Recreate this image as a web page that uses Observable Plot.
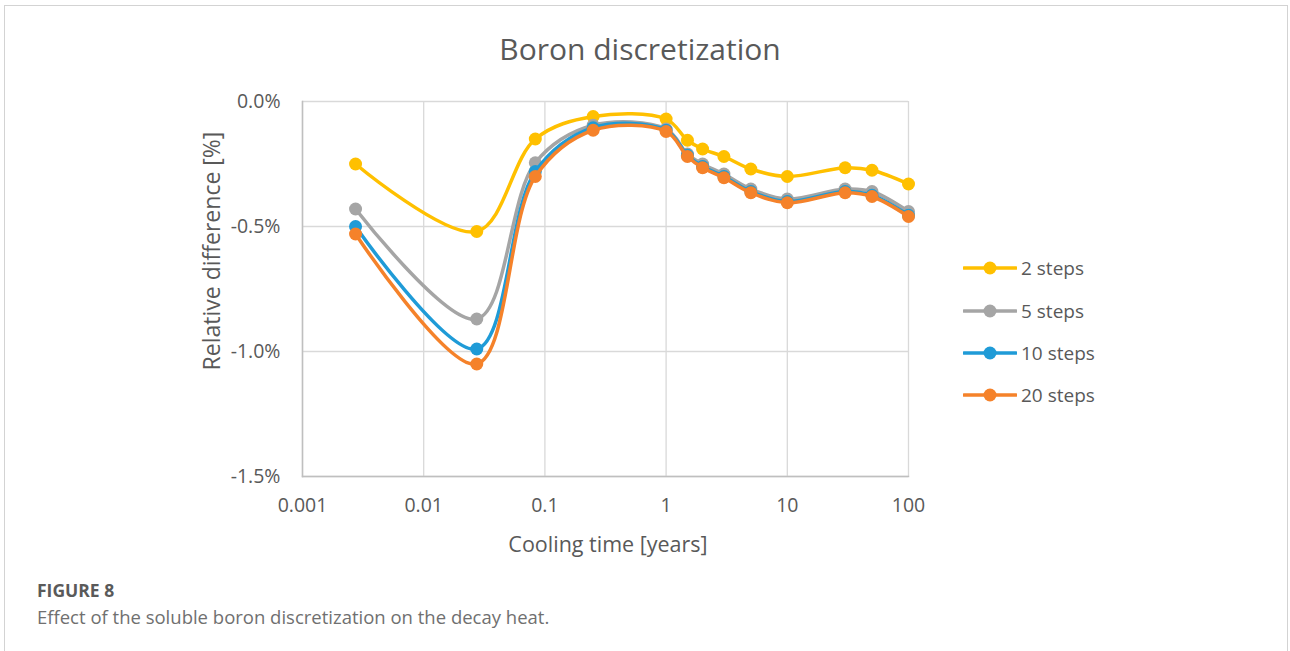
<!DOCTYPE html>
<html>
<head>
<meta charset="utf-8">
<script src="https://cdn.jsdelivr.net/npm/d3@7"></script>
<script src="https://cdn.jsdelivr.net/npm/@observablehq/plot@0.6"></script>
<style>
  body { margin: 0; background: #fff; font-family: "Open Sans", sans-serif; }
  #wrap { position: relative; width: 1290px; height: 651px; overflow: hidden; background: #fff; }
  #card { position: absolute; left: 4px; top: 5px; width: 1284px; height: 720px; border: 1px solid #d3d3d3; box-sizing: border-box; }
  #title { position: absolute; left: 0; width: 1280px; top: 29px; text-align: center; font-size: 30px; color: #595959; line-height: 40px; }
  #chart { position: absolute; left: 0; top: 85px; }
  #ylab { position: absolute; left: 211px; top: 251px; transform: translate(-50%, -50%) rotate(-90deg); white-space: nowrap; font-size: 23px; color: #595959; line-height: 26px; }
  #xlab { position: absolute; left: 608px; top: 544px; transform: translate(-50%, -50%); white-space: nowrap; font-size: 21.5px; color: #595959; line-height: 26px; }
  #legend { position: absolute; left: 963px; top: 0; }
  .lg { position: absolute; left: 0; height: 30px; display: flex; align-items: center; white-space: nowrap; font-size: 19px; color: #595959; transform: translateY(-50%); }
  .lg svg { margin-right: 4px; }
  #fig { position: absolute; left: 37px; top: 580px; font-size: 17.5px; line-height: 20px; font-weight: 700; color: #5a5a5a; }
  #cap { position: absolute; left: 37px; top: 606px; font-size: 18.5px; line-height: 22px; font-weight: 400; color: #707070; }
</style>
</head>
<body>
<div id="wrap">
  <div id="card"></div>
  <div id="title">Boron discretization</div>
  <div id="chart"></div>
  <div id="ylab">Relative difference [%]</div>
  <div id="xlab">Cooling time [years]</div>
  <div id="legend"></div>
  <div id="fig">FIGURE 8</div>
  <div id="cap">Effect of the soluble boron discretization on the decay heat.</div>
</div>
<script>
// Cooling times in years (1 d, 10 d, 1 month, 3 months, 1 y, ...)
const coolingTime = [1/365, 10/365, 1/12, 0.25, 1, 1.5, 2, 3, 5, 10, 30, 50, 100];
const seriesNames = ["2 steps", "5 steps", "10 steps", "20 steps"];
const seriesColors = ["#FFC000", "#A5A5A5", "#1F9BD7", "#F5822A"];
const steps2  = [-0.25, -0.52, -0.15, -0.06, -0.07, -0.155, -0.19, -0.22, -0.27, -0.30, -0.265, -0.275, -0.33];
const steps5  = [-0.43, -0.87, -0.245, -0.095, -0.11, -0.21, -0.25, -0.29, -0.35, -0.39, -0.35, -0.36, -0.44];
const steps10 = [-0.50, -0.99, -0.28, -0.105, -0.115, -0.215, -0.26, -0.30, -0.36, -0.40, -0.36, -0.375, -0.455];
const steps20 = [-0.53, -1.05, -0.30, -0.115, -0.12, -0.22, -0.265, -0.305, -0.365, -0.405, -0.365, -0.38, -0.46];
const xTicks = [0.001, 0.01, 0.1, 1, 10, 100];
const yTicks = [0, -0.5, -1.0, -1.5];

const allSeries = [steps2, steps5, steps10, steps20];

const marks = [
  Plot.gridX(xTicks, {stroke: "#d9d9d9", strokeOpacity: 1, strokeWidth: 1.3}),
  Plot.gridY(yTicks, {stroke: "#d9d9d9", strokeOpacity: 1, strokeWidth: 1.3}),
  Plot.frame({anchor: "left", stroke: "#bfbfbf", strokeWidth: 1.5}),
  Plot.frame({anchor: "bottom", stroke: "#bfbfbf", strokeWidth: 1.5}),
  Plot.axisX(xTicks, {tickSize: 0, tickPadding: 22, tickFormat: d => String(d), label: null}),
  Plot.axisY(yTicks, {tickSize: 0, tickPadding: 22, tickFormat: d => d.toFixed(1) + "%", label: null})
];
allSeries.forEach((vals, i) => {
  const data = coolingTime.map((t, j) => ({t, v: vals[j]}));
  marks.push(Plot.line(data, {x: "t", y: "v", stroke: seriesColors[i], strokeWidth: 3.5, curve: "catmull-rom"}));
  marks.push(Plot.dot(data, {x: "t", y: "v", fill: seriesColors[i], r: 6.5, stroke: "none"}));
});

const chart = Plot.plot({
  width: 1290,
  height: 480,
  marginLeft: 302,
  marginRight: 382,
  marginTop: 16,
  marginBottom: 89,
  style: {fontFamily: "'Open Sans', sans-serif", fontSize: "19.5px", color: "#595959", background: "transparent", overflow: "visible"},
  x: {type: "log", domain: [0.001, 100]},
  y: {domain: [-1.5, 0]},
  marks
});
document.getElementById("chart").appendChild(chart);

// Legend
const legend = document.getElementById("legend");
const rowsY = [268, 311, 353, 395];
seriesNames.forEach((name, i) => {
  const row = document.createElement("div");
  row.className = "lg";
  row.style.top = rowsY[i] + "px";
  row.innerHTML = `<svg width="54" height="16"><line x1="1" y1="8" x2="53" y2="8" stroke="${seriesColors[i]}" stroke-width="3.5" stroke-linecap="round"/><circle cx="27" cy="8" r="6.5" fill="${seriesColors[i]}"/></svg><span>${name}</span>`;
  legend.appendChild(row);
});
</script>
</body>
</html>
